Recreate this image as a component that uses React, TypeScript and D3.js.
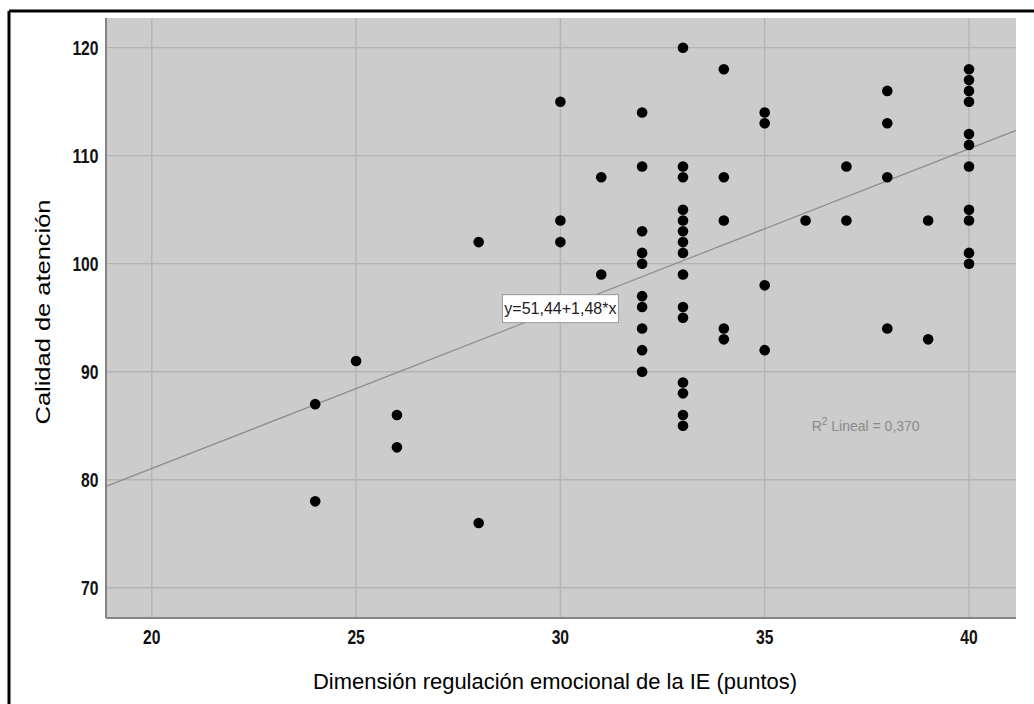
import React from "react";
import * as d3 from "d3";

// Dimensión regulación emocional (x) and Calidad de atención (y), one entry per case
const regulacion = [
  24, 24,
  25,
  26, 26,
  28, 28,
  30, 30, 30,
  31, 31,
  32, 32, 32, 32, 32, 32, 32, 32, 32, 32,
  33, 33, 33, 33, 33, 33, 33, 33, 33, 33, 33, 33, 33, 33, 33,
  34, 34, 34, 34, 34,
  35, 35, 35, 35,
  36,
  37, 37,
  38, 38, 38, 38,
  39, 39,
  40, 40, 40, 40, 40, 40, 40, 40, 40, 40, 40,
];
const calidad = [
  87, 78,
  91,
  86, 83,
  102, 76,
  115, 104, 102,
  108, 99,
  114, 109, 103, 101, 100, 97, 96, 94, 92, 90,
  120, 109, 108, 105, 104, 103, 102, 101, 99, 96, 95, 89, 88, 86, 85,
  118, 108, 104, 94, 93,
  114, 113, 98, 92,
  104,
  109, 104,
  116, 113, 108, 94,
  104, 93,
  118, 117, 116, 115, 112, 111, 109, 105, 104, 101, 100,
];

const xTicks = [20, 25, 30, 35, 40];
const yTicks = [70, 80, 90, 100, 110, 120];
const fitIntercept = 51.44;
const fitSlope = 1.48;
const fitLabel = "y=51,44+1,48*x";
const r2Text = "0,370";
const xTitle = "Dimensión regulación emocional de la IE (puntos)";
const yTitle = "Calidad de atención";

const width = 1034;
const height = 704;
const left = 106, right = 1016, top = 18, bottom = 618;

export default function App() {
  const x = d3.scaleLinear().domain([18.88, 41.15]).range([left, right]);
  const y = d3.scaleLinear().domain([67.2, 122.75]).range([bottom, top]);

  const fit = (v: number) => fitIntercept + fitSlope * v;
  const line = d3
    .line<number>()
    .x((d) => x(d))
    .y((d) => y(fit(d)));

  const points = regulacion.map((v, i) => ({ x: v, y: calidad[i] }));

  // label box sits on the fit line at x = 30
  const lx = x(30);
  const ly = y(fit(30));

  const textFont = "'Liberation Sans', Arial, sans-serif";
  // the picture is squeezed horizontally, so digits come out narrow
  const tickLen = (t: number) => String(t).length * 8.7;

  return (
    <svg
      width={width}
      height={height}
      style={{ position: "absolute", left: 0, top: 0, background: "#fff" }}
    >
      {/* outer frame (only top and left visible) */}
      <line x1={9} y1={11} x2={width} y2={11} stroke="#000" strokeWidth={3} />
      <line x1={9} y1={11} x2={9} y2={height} stroke="#000" strokeWidth={3} />

      {/* plot area */}
      <rect x={left} y={top} width={right - left} height={bottom - top} fill="#cccccc" />

      {/* grid */}
      {xTicks.map((t) => (
        <line key={"gx" + t} x1={x(t)} x2={x(t)} y1={top} y2={bottom} stroke="#b3b3b3" strokeWidth={1.3} />
      ))}
      {yTicks.map((t) => (
        <line key={"gy" + t} x1={left} x2={right} y1={y(t)} y2={y(t)} stroke="#b3b3b3" strokeWidth={1.3} />
      ))}

      {/* axes */}
      <line x1={left} x2={left} y1={top} y2={bottom} stroke="#858585" strokeWidth={2} />
      <line x1={left} x2={right} y1={bottom} y2={bottom} stroke="#858585" strokeWidth={2} />

      {/* tick labels */}
      {xTicks.map((t) => (
        <text
          key={"tx" + t}
          x={x(t)}
          y={644}
          textAnchor="middle"
          textLength={tickLen(t)}
          lengthAdjust="spacingAndGlyphs"
          fontFamily={textFont}
          fontWeight="bold"
          fontSize={20}
          fill="#111"
        >
          {t}
        </text>
      ))}
      {yTicks.map((t) => (
        <text
          key={"ty" + t}
          x={98.5}
          y={y(t)}
          dy="0.36em"
          textAnchor="end"
          textLength={tickLen(t)}
          lengthAdjust="spacingAndGlyphs"
          fontFamily={textFont}
          fontWeight="bold"
          fontSize={20}
          fill="#111"
        >
          {t}
        </text>
      ))}

      {/* regression line */}
      <path d={line(x.domain()) || ""} fill="none" stroke="#8c8c8c" strokeWidth={1.2} />

      {/* points */}
      {points.map((d, i) => (
        <circle key={i} cx={x(d.x)} cy={y(d.y)} r={5.3} fill="#000" />
      ))}

      {/* equation label */}
      <rect x={lx - 58} y={ly - 14} width={116} height={28} fill="#fff" stroke="#999" strokeWidth={1} />
      <text x={lx} y={ly} dy="0.36em" textAnchor="middle" fontFamily={textFont} fontSize={16} fill="#222">
        {fitLabel}
      </text>

      {/* R² label */}
      <text x={x(36.15)} y={y(84.55)} fontFamily={textFont} fontSize={14} fill="#8a8a8a">
        R<tspan dy={-6} fontSize={10}>2</tspan>
        <tspan dy={6}> Lineal = {r2Text}</tspan>
      </text>

      {/* axis titles */}
      <text
        x={555}
        y={689}
        textAnchor="middle"
        textLength={484}
        lengthAdjust="spacingAndGlyphs"
        fontFamily={textFont}
        fontSize={22}
        fill="#000"
      >
        {xTitle}
      </text>
      <text
        transform={`translate(50, 312) rotate(-90)`}
        textAnchor="middle"
        textLength={225}
        lengthAdjust="spacingAndGlyphs"
        fontFamily={textFont}
        fontSize={21}
        fill="#000"
      >
        {yTitle}
      </text>
    </svg>
  );
}
